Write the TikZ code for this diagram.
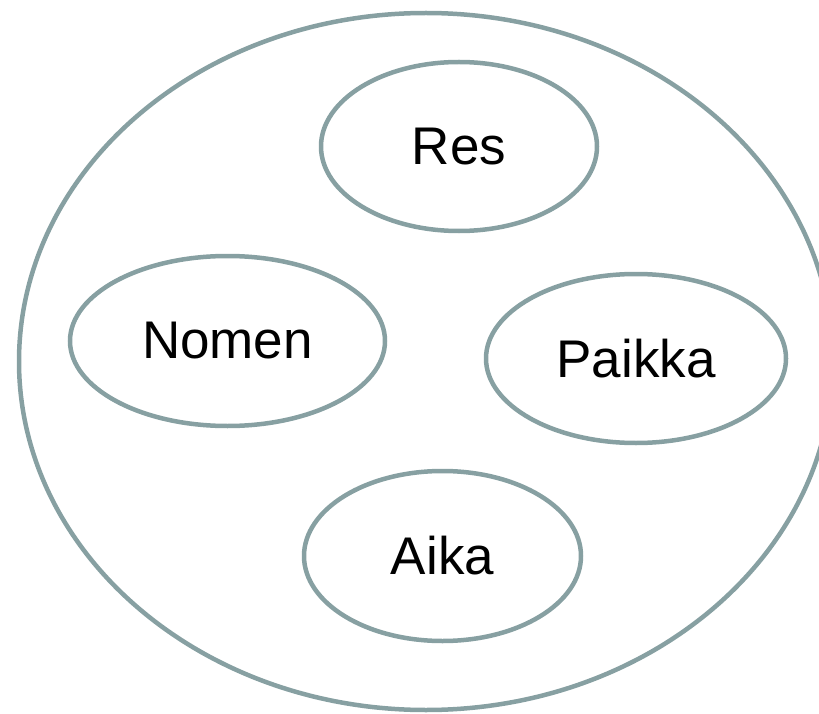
\documentclass[tikz,border=0pt]{standalone}
\usepackage{fontspec}
\setmainfont{Liberation Sans}
\usetikzlibrary{shapes.geometric}
\definecolor{rim}{RGB}{135,160,162}
\tikzset{
  oval/.style={ellipse, draw=rim, line width=4.5pt, inner sep=0pt, text=black,
    font=\fontsize{53}{60}\selectfont},
}
\begin{document}
\begin{tikzpicture}[x=1pt,y=-1pt]
\useasboundingbox (0,0) rectangle (819,714);
\node[oval, minimum width=814pt, minimum height=697pt] (all) at (426,361.5) {};
\node[oval, minimum width=276pt, minimum height=169pt] (res) at (459,146.5) {Res};
\node[oval, minimum width=315pt, minimum height=170pt] (nomen) at (227.5,341) {Nomen};
\node[oval, minimum width=300pt, minimum height=169pt] (paikka) at (636,358.5) {Paikka};
\node[oval, minimum width=277pt, minimum height=170pt] (aika) at (442.5,556) {Aika};
\end{tikzpicture}
\end{document}
